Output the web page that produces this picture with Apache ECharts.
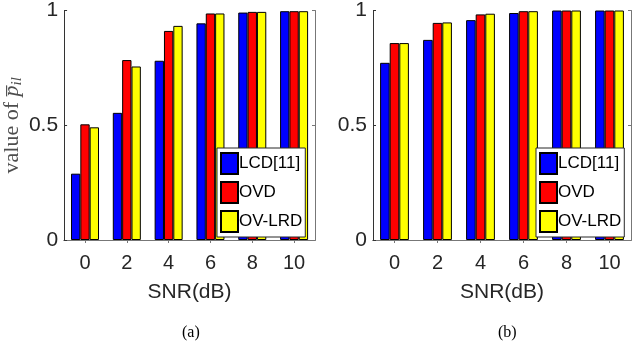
<!DOCTYPE html>
<html>
<head>
<meta charset="utf-8">
<script src="https://cdn.jsdelivr.net/npm/echarts@6/dist/echarts.min.js"></script>
<style>
  html, body { margin: 0; padding: 0; background: #fff; }
  #chart { width: 635px; height: 349px; }
</style>
</head>
<body>
<div id="chart"></div>
<script>
// data
var snr = ['0', '2', '4', '6', '8', '10'];
var seriesNames = ['LCD[11]', 'OVD', 'OV-LRD'];
var yTicks = [0, 0.5, 1];

// panel (a)
var lcdA = [0.289, 0.554, 0.781, 0.944, 0.991, 0.997];
var ovdA = [0.504, 0.784, 0.911, 0.987, 0.994, 0.997];
var ovlrdA = [0.491, 0.756, 0.933, 0.987, 0.994, 0.997];
// panel (b)
var lcdB = [0.772, 0.872, 0.958, 0.989, 1, 1];
var ovdB = [0.858, 0.946, 0.983, 0.997, 1, 1];
var ovlrdB = [0.858, 0.948, 0.986, 0.997, 1, 1];

var colors = ['#0000ff', '#ff0000', '#ffff00'];
var sans = '"Liberation Sans", Arial, sans-serif';
var serif = '"Liberation Serif", "Times New Roman", serif';
var axisColor = '#333333';

var chart = echarts.init(document.getElementById('chart'), null, { renderer: 'canvas' });

function xAxes(gridIndex) {
	return [{
		type: 'category',
		gridIndex: gridIndex,
		data: snr,
		position: 'bottom',
		axisLine: { show: true, lineStyle: { color: axisColor, width: 1 } },
		axisTick: { show: true, inside: true, alignWithLabel: true, length: 3, lineStyle: { color: axisColor } },
		axisLabel: { color: '#262626', fontFamily: sans, fontSize: 20, margin: 13 },
		name: 'SNR(dB)',
		nameLocation: 'middle',
		nameGap: 42,
		nameTextStyle: { color: '#262626', fontFamily: sans, fontSize: 21 }
	}, {
		type: 'category',
		gridIndex: gridIndex,
		data: snr,
		position: 'top',
		axisLine: { show: true, lineStyle: { color: '#777', width: 1 } },
		axisTick: { show: true, inside: true, alignWithLabel: true, length: 3, lineStyle: { color: '#777' } },
		axisLabel: { show: false }
	}];
}

function yAxes(gridIndex, withName) {
	var left = {
		type: 'value',
		gridIndex: gridIndex,
		min: 0,
		max: 1,
		interval: 0.5,
		position: 'left',
		splitLine: { show: false },
		axisLine: { show: true, lineStyle: { color: axisColor, width: 1 } },
		axisTick: { show: true, inside: true, length: 3, lineStyle: { color: axisColor } },
		axisLabel: {
			color: '#262626', fontFamily: sans, fontSize: 21, margin: 6,
			formatter: function (v) { return yTicks.indexOf(v) >= 0 ? String(v) : ''; }
		}
	};
	if (withName) {
		left.name = '{t|value of }{p|p\u0305}{s|il}';
		left.nameLocation = 'middle';
		left.nameGap = 38;
		left.nameRotate = 90;
		left.nameTextStyle = {
			rich: {
				t: { fontFamily: serif, fontSize: 22, color: '#4d4d4d', lineHeight: 26 },
				p: { fontFamily: serif, fontStyle: 'italic', fontSize: 22, color: '#4d4d4d', lineHeight: 26 },
				s: { fontFamily: serif, fontStyle: 'italic', fontSize: 15, color: '#4d4d4d', lineHeight: 26, verticalAlign: 'bottom', padding: [6, 0, 0, 0] }
			}
		};
	}
	var right = {
		type: 'value',
		gridIndex: gridIndex,
		min: 0,
		max: 1,
		interval: 0.5,
		position: 'right',
		splitLine: { show: false },
		axisLine: { show: true, lineStyle: { color: '#777', width: 1 } },
		axisTick: { show: true, inside: true, length: 3, lineStyle: { color: '#777' } },
		axisLabel: { show: false }
	};
	return [left, right];
}

function bars(gridIndex, values) {
	// xAxis index 2*grid (bottom), yAxis index 2*grid (left)
	return values.map(function (vals, i) {
		return {
			name: seriesNames[i],
			type: 'bar',
			xAxisIndex: gridIndex * 2,
			yAxisIndex: gridIndex * 2,
			data: vals,
			barGap: '0%',
			barCategoryGap: '33%',
			itemStyle: { color: colors[i], borderColor: '#000', borderWidth: 1 },
			emphasis: { disabled: true }
		};
	});
}

function legend(left, top) {
	return {
		data: seriesNames,
		orient: 'vertical',
		left: left,
		top: top,
		icon: 'rect',
		itemWidth: 17,
		itemHeight: 21,
		itemGap: 6,
		padding: [4, 3, 4, 3],
		backgroundColor: '#fff',
		borderColor: '#262626',
		borderWidth: 1,
		selectedMode: false,
		textStyle: { color: '#000', fontFamily: sans, fontSize: 17, padding: [0, 0, 0, -4] }
	};
}

var option = {
	backgroundColor: '#ffffff',
	animation: false,
	grid: [
		{ left: 59, top: 7, width: 256, height: 233, show: false },
		{ left: 373, top: 7, width: 258, height: 233, show: false }
	],
	xAxis: xAxes(0).concat(xAxes(1)),
	yAxis: yAxes(0, true).concat(yAxes(1, false)),
	legend: [legend(217, 148), legend(536, 148)],
	title: [
		{ text: '(a)', left: 177, top: 320, textStyle: { fontFamily: serif, fontSize: 16, fontWeight: 'normal', color: '#000' } },
		{ text: '(b)', left: 493, top: 320, textStyle: { fontFamily: serif, fontSize: 16, fontWeight: 'normal', color: '#000' } }
	],
	series: bars(0, [lcdA, ovdA, ovlrdA]).concat(bars(1, [lcdB, ovdB, ovlrdB]))
};

chart.setOption(option);
</script>
</body>
</html>
